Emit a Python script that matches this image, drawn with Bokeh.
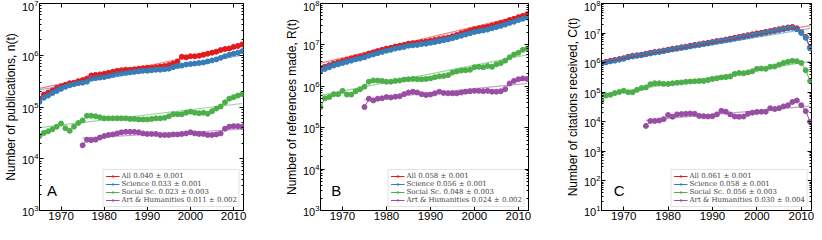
from bokeh.plotting import figure
from bokeh.layouts import row
from bokeh.models import (Range1d, LogAxis, LinearAxis, FixedTicker, Legend, LegendItem,
                          Label, CustomJSTickFormatter)
from bokeh.embed import file_html
from bokeh.resources import INLINE

years = list(range(1965, 2013))
art_years = list(range(1975, 2013))
fit_years = [1965, 2012]
art_fit_years = [1975, 2012]

series_names = ["All", "Science", "Social Sc.", "Art & Humanities"]
colors = ["#e41a1c", "#377eb8", "#4daf4a", "#984ea3"]

# ---------------- Panel A: publications, n(t) (thousands) ----------------
pubs_all_k = [145, 174, 191, 209, 234, 251, 269, 288, 295, 316, 331, 355,
              407, 417, 427, 437, 457, 479, 501, 513, 525, 525, 537, 550,
              562, 575, 575, 589, 603, 617, 646, 692, 759, 933, 912, 955,
              955, 977, 1020, 1070, 1120, 1170, 1260, 1320, 1350, 1450, 1510, 1620]
pubs_sci_k = [126, 151, 166, 186, 204, 224, 245, 263, 275, 288, 295, 309,
              355, 363, 372, 380, 398, 417, 437, 447, 457, 468, 479, 490,
              501, 501, 513, 525, 525, 537, 550, 589, 617, 631, 661, 676,
              692, 708, 724, 759, 794, 832, 891, 955, 1020, 1070, 1120, 1200]
pubs_soc_k = [27.5, 31.6, 33.9, 37.2, 41.7, 47.9, 38.9, 34.7, 41.7, 49.0, 55.0, 67.6,
              67.6, 66.1, 63.1, 60.3, 60.3, 60.3, 60.3, 60.3, 60.3, 58.9, 58.9, 57.5,
              57.5, 57.5, 58.9, 60.3, 60.3, 61.7, 66.1, 72.4, 72.4, 72.4, 77.6, 81.3,
              77.6, 75.9, 77.6, 74.1, 83.2, 93.3, 102, 123, 145, 155, 166, 178]
pubs_art_k = [18.2, 23.4, 22.9, 23.4, 25.7, 27.5, 28.8, 29.5, 30.9, 32.4, 33.1, 33.1,
              33.1, 32.4, 30.9, 30.2, 30.2, 30.2, 28.8, 28.8, 28.8, 29.5, 29.5, 30.2,
              30.9, 32.4, 30.9, 30.2, 30.2, 28.8, 28.8, 29.5, 30.9, 38.0, 41.7, 42.7,
              42.7, 41.7]
pubs_fit_all_k = [229, 1510]
pubs_fit_sci_k = [214, 1000]
pubs_fit_soc_k = [39.8, 117]
pubs_fit_art_k = [25.1, 37.2]
pubs_labels = ["All 0.040 ± 0.001", "Science 0.033 ± 0.001",
               "Social Sc. 0.023 ± 0.003", "Art & Humanities 0.011 ± 0.002"]

# ---------------- Panel B: references made, R(t) (millions) ----------------
refs_all_m = [2.63, 2.95, 3.24, 3.55, 3.80, 4.07, 4.37, 4.68, 5.01, 5.25, 5.62, 6.17,
              6.61, 7.08, 7.59, 8.13, 8.51, 9.12, 9.55, 10.0, 10.7, 11.0, 11.2, 11.7,
              12.0, 12.6, 13.2, 13.8, 14.5, 15.1, 16.2, 17.4, 19.1, 20.4, 22.4, 24.0,
              25.1, 26.3, 27.5, 29.5, 31.6, 33.9, 36.3, 39.8, 42.7, 46.8, 50.1, 55.0]
refs_sci_m = [2.34, 2.63, 2.88, 3.16, 3.39, 3.63, 3.89, 4.17, 4.47, 4.68, 5.01, 5.50,
              5.89, 6.31, 6.76, 7.24, 7.59, 8.13, 8.51, 8.91, 9.55, 9.77, 10.0, 10.5,
              10.7, 11.2, 11.7, 12.3, 12.9, 13.5, 14.5, 15.5, 16.6, 17.8, 19.1, 20.4,
              21.4, 22.4, 23.4, 25.1, 26.9, 28.8, 30.9, 33.9, 36.3, 39.8, 42.7, 45.7]
refs_soc_m = [0.316, 0.513, 0.550, 0.646, 0.646, 0.776, 0.631, 0.631, 0.759, 0.851, 0.977, 1.29,
              1.38, 1.38, 1.35, 1.29, 1.29, 1.35, 1.38, 1.45, 1.48, 1.51, 1.48, 1.48,
              1.51, 1.55, 1.66, 1.74, 1.78, 1.86, 2.14, 2.29, 2.40, 2.45, 2.51, 2.88,
              2.95, 2.88, 3.09, 2.95, 3.39, 3.63, 4.17, 5.01, 5.89, 6.46, 7.59, 8.13]
refs_art_m = [0.316, 0.501, 0.457, 0.501, 0.513, 0.550, 0.537, 0.562, 0.575, 0.646, 0.708, 0.741,
              0.708, 0.646, 0.617, 0.631, 0.676, 0.741, 0.692, 0.676, 0.676, 0.676, 0.708, 0.741,
              0.759, 0.776, 0.776, 0.759, 0.776, 0.741, 0.741, 0.759, 0.851, 1.17, 1.35, 1.48,
              1.55, 1.51]
refs_fit_all_m = [3.63, 55.0]
refs_fit_sci_m = [3.16, 43.7]
refs_fit_soc_m = [0.603, 5.75]
refs_fit_art_m = [0.479, 1.17]
refs_labels = ["All 0.058 ± 0.001", "Science 0.056 ± 0.001",
               "Social Sc. 0.048 ± 0.003", "Art & Humanities 0.024 ± 0.002"]

# ---------------- Panel C: citations received, C(t) (thousands) ----------------
cits_all_k = [1000, 1070, 1150, 1230, 1320, 1410, 1580, 1700, 1780, 1860, 2000, 2140,
              2290, 2400, 2570, 2750, 2950, 3090, 3310, 3470, 3720, 3980, 4170, 4470,
              4680, 5010, 5370, 5620, 6030, 6460, 6920, 7410, 7940, 8510, 9120, 9770,
              10200, 11000, 11700, 12600, 13500, 14500, 15500, 16200, 14500, 10700, 7410, 3310]
cits_sci_k = [955, 1020, 1100, 1170, 1260, 1350, 1510, 1620, 1700, 1780, 1910, 2040,
              2190, 2290, 2450, 2630, 2820, 2950, 3160, 3310, 3550, 3800, 3980, 4270,
              4470, 4790, 5130, 5370, 5750, 6030, 6460, 6920, 7410, 7940, 8510, 9120,
              9550, 10200, 11000, 11700, 12600, 13500, 14500, 15100, 13500, 10000, 6920, 3020]
cits_soc_k = [52.5, 77.6, 81.3, 93.3, 102, 112, 100, 100, 120, 138, 145, 186,
              200, 200, 191, 191, 200, 209, 214, 224, 229, 234, 240, 240,
              257, 282, 295, 316, 324, 339, 417, 447, 437, 468, 513, 617,
              631, 617, 724, 741, 851, 977, 1070, 1150, 1120, 977, 550, 240]
cits_art_k = [7.24, 10.7, 10.7, 11.0, 12.3, 17.0, 14.8, 17.8, 18.2, 18.6, 19.1, 18.6,
              15.8, 15.5, 15.1, 15.5, 17.8, 23.4, 21.9, 17.8, 15.1, 14.8, 15.1, 18.6,
              20.4, 21.4, 21.9, 21.9, 28.8, 26.9, 28.8, 33.1, 36.3, 46.8, 52.5, 36.3,
              22.9, 10.0]
cits_fit_all_k = [1000, 17800]
cits_fit_sci_k = [955, 14500]
cits_fit_soc_k = [79.4, 1100]
cits_fit_art_k = [11.2, 33.9]
cits_labels = ["All 0.061 ± 0.001", "Science 0.058 ± 0.001",
               "Social Sc. 0.056 ± 0.003", "Art & Humanities 0.030 ± 0.004"]

FRAME_H = 207
TOP = 3
BOTTOM = 14
SANS = "Liberation Sans"
SERIF = "DejaVu Serif"


def scaled(vals, factor):
    return [v * factor for v in vals]


def panel(frame_w, left, right, dec_lo, dec_hi, ylabel, data, fits, labels,
          letter, letter_x, letter_y):
    p = figure(frame_width=frame_w, frame_height=FRAME_H, x_range=Range1d(1965, 2012.3),
               y_range=Range1d(10 ** dec_lo, 10 ** dec_hi), y_axis_type="log",
               output_backend="svg", toolbar_location=None,
               min_border_left=left, min_border_right=right,
               min_border_top=TOP, min_border_bottom=BOTTOM)
    p.xgrid.visible = False
    p.ygrid.visible = False
    p.outline_line_color = "black"
    p.outline_line_width = 1
    p.background_fill_color = "white"
    p.border_fill_color = "white"

    major_y = [10 ** e for e in range(dec_lo, dec_hi + 1)]
    minor_y = [m * 10 ** e for e in range(dec_lo, dec_hi) for m in range(2, 10)]
    yt = FixedTicker(ticks=major_y, minor_ticks=minor_y)
    xt = FixedTicker(ticks=[1970, 1980, 1990, 2000, 2010], minor_ticks=[])

    for ax in p.yaxis:
        ax.ticker = yt
        ax.major_label_text_font_size = "11px"
        ax.major_label_standoff = 1
    for ax in p.xaxis:
        ax.ticker = xt
        ax.major_label_text_font_size = "11.5px"
        ax.major_label_standoff = 1
    for ax in list(p.xaxis) + list(p.yaxis):
        ax.major_tick_in = 4
        ax.major_tick_out = 0
        ax.minor_tick_in = 2
        ax.minor_tick_out = 0
        ax.axis_line_color = "black"
        ax.major_label_text_font = SANS
        ax.major_label_text_color = "black"
    p.yaxis.axis_label = ylabel
    p.yaxis.axis_label_text_font = SANS
    p.yaxis.axis_label_text_font_size = "12px"
    p.yaxis.axis_label_text_font_style = "normal"
    p.yaxis.axis_label_text_color = "black"
    p.yaxis.axis_label_standoff = 1

    blank = CustomJSTickFormatter(code="return ''")
    ra = LogAxis(ticker=yt, formatter=blank, major_tick_in=4, major_tick_out=0,
                 minor_tick_in=2, minor_tick_out=0, major_label_text_font_size="1px",
                 major_label_standoff=0, axis_line_color=None)
    p.add_layout(ra, "right")
    ta = LinearAxis(ticker=xt, formatter=blank, major_tick_in=4, major_tick_out=0,
                    minor_tick_in=0, minor_tick_out=0, major_label_text_font_size="1px",
                    major_label_standoff=0, axis_line_color=None)
    p.add_layout(ta, "above")

    items = []
    for i, (xs, ys) in enumerate(data):
        c = colors[i]
        lr = p.line(xs, ys, line_color=c, line_width=1)
        sr = p.scatter(xs, ys, size=5, fill_color=c, line_color=c)
        items.append(LegendItem(label=labels[i], renderers=[lr, sr]))
    for i, (xs, ys) in enumerate(fits):
        p.line(xs, ys, line_color=colors[i], line_width=1.2, line_alpha=0.55)

    legend = Legend(items=items, location="bottom_right", margin=3, padding=2,
                    spacing=0, label_height=4, glyph_height=4, glyph_width=14,
                    label_standoff=2, label_text_font=SERIF,
                    label_text_font_size="7px", label_text_line_height=0.55,
                    border_line_color="#c8c8c8", border_line_width=1,
                    background_fill_alpha=1.0)
    p.add_layout(legend)

    p.add_layout(Label(x=letter_x, y=letter_y, text=letter, text_font=SANS,
                       text_font_size="15px", text_align="center",
                       text_baseline="middle", text_color="black"))
    return p


pa = panel(204, 33, 38, 3, 7, "Number of publications, n(t)",
           [(years, scaled(pubs_all_k, 1e3)), (years, scaled(pubs_sci_k, 1e3)),
            (years, scaled(pubs_soc_k, 1e3)), (art_years, scaled(pubs_art_k, 1e3))],
           [(fit_years, scaled(pubs_fit_all_k, 1e3)), (fit_years, scaled(pubs_fit_sci_k, 1e3)),
            (fit_years, scaled(pubs_fit_soc_k, 1e3)), (art_fit_years, scaled(pubs_fit_art_k, 1e3))],
           pubs_labels, "A", 1967.9, 2.43e3)

pb = panel(208, 38, 34, 3, 8, "Number of references made, R(t)",
           [(years, scaled(refs_all_m, 1e6)), (years, scaled(refs_sci_m, 1e6)),
            (years, scaled(refs_soc_m, 1e6)), (art_years, scaled(refs_art_m, 1e6))],
           [(fit_years, scaled(refs_fit_all_m, 1e6)), (fit_years, scaled(refs_fit_sci_m, 1e6)),
            (fit_years, scaled(refs_fit_soc_m, 1e6)), (art_fit_years, scaled(refs_fit_art_m, 1e6))],
           refs_labels, "B", 1968.6, 3.04e3)

pc = panel(210, 38, 3, 1, 8, "Number of citations received, C(t)",
           [(years, scaled(cits_all_k, 1e3)), (years, scaled(cits_sci_k, 1e3)),
            (years, scaled(cits_soc_k, 1e3)), (art_years, scaled(cits_art_k, 1e3))],
           [(fit_years, scaled(cits_fit_all_k, 1e3)), (fit_years, scaled(cits_fit_sci_k, 1e3)),
            (fit_years, scaled(cits_fit_soc_k, 1e3)), (art_fit_years, scaled(cits_fit_art_k, 1e3))],
           cits_labels, "C", 1969.0, 47)

layout = row(pa, pb, pc)
open("out.html", "w").write(file_html(layout, INLINE))
